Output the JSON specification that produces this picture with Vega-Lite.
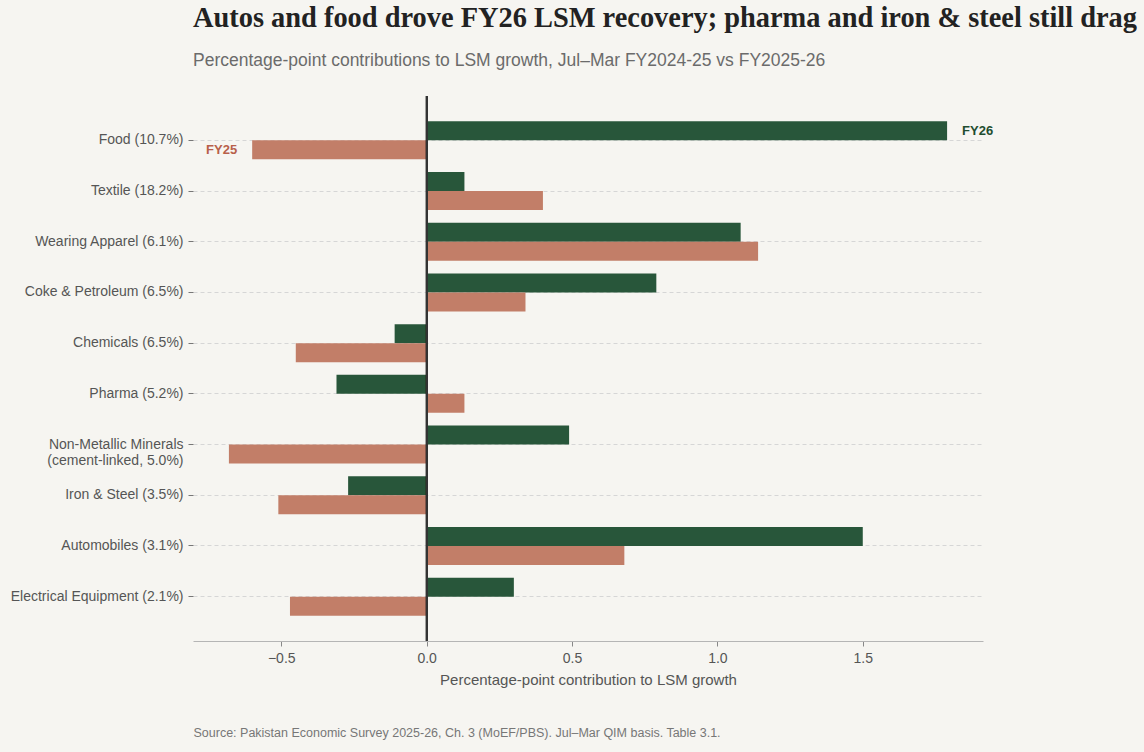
{
  "$schema": "https://vega.github.io/schema/vega-lite/v6.json",
  "width": 790,
  "height": 545,
  "autosize": {"type": "none"},
  "padding": {"left": 193, "top": 96, "right": 161, "bottom": 111},
  "background": "#f6f5f1",
  "title": {
    "text": "Autos and food drove FY26 LSM recovery; pharma and iron & steel still drag",
    "subtitle": "Percentage-point contributions to LSM growth, Jul–Mar FY2024-25 vs FY2025-26",
    "anchor": "start",
    "frame": "group",
    "font": "Liberation Serif",
    "fontSize": 28.4,
    "fontWeight": "bold",
    "color": "#222222",
    "subtitleFont": "Liberation Sans",
    "subtitleFontSize": 17.5,
    "subtitleColor": "#6b6b6b",
    "subtitlePadding": 18,
    "offset": 25
  },
  "config": {
    "view": {"stroke": null},
    "font": "Liberation Sans",
    "axis": {
      "labelFont": "Liberation Sans",
      "titleFont": "Liberation Sans",
      "labelColor": "#555555",
      "titleColor": "#555555",
      "labelFontSize": 14,
      "titleFontWeight": "normal"
    }
  },
  "datasets": {
    "contrib": [
      {"sector": "Food (10.7%)", "period": "FY26", "value": 1.79},
      {"sector": "Food (10.7%)", "period": "FY25", "value": -0.60},
      {"sector": "Textile (18.2%)", "period": "FY26", "value": 0.13},
      {"sector": "Textile (18.2%)", "period": "FY25", "value": 0.40},
      {"sector": "Wearing Apparel (6.1%)", "period": "FY26", "value": 1.08},
      {"sector": "Wearing Apparel (6.1%)", "period": "FY25", "value": 1.14},
      {"sector": "Coke & Petroleum (6.5%)", "period": "FY26", "value": 0.79},
      {"sector": "Coke & Petroleum (6.5%)", "period": "FY25", "value": 0.34},
      {"sector": "Chemicals (6.5%)", "period": "FY26", "value": -0.11},
      {"sector": "Chemicals (6.5%)", "period": "FY25", "value": -0.45},
      {"sector": "Pharma (5.2%)", "period": "FY26", "value": -0.31},
      {"sector": "Pharma (5.2%)", "period": "FY25", "value": 0.13},
      {"sector": "Non-Metallic Minerals|(cement-linked, 5.0%)", "period": "FY26", "value": 0.49},
      {"sector": "Non-Metallic Minerals|(cement-linked, 5.0%)", "period": "FY25", "value": -0.68},
      {"sector": "Iron & Steel (3.5%)", "period": "FY26", "value": -0.27},
      {"sector": "Iron & Steel (3.5%)", "period": "FY25", "value": -0.51},
      {"sector": "Automobiles (3.1%)", "period": "FY26", "value": 1.50},
      {"sector": "Automobiles (3.1%)", "period": "FY25", "value": 0.68},
      {"sector": "Electrical Equipment (2.1%)", "period": "FY26", "value": 0.30},
      {"sector": "Electrical Equipment (2.1%)", "period": "FY25", "value": -0.47}
    ]
  },
  "data": {"name": "contrib"},
  "resolve": {"axis": {"x": "independent"}},
  "layer": [
    {
      "layer": [
        {
          "mark": {"type": "bar"},
          "encoding": {
            "y": {
              "field": "sector",
              "type": "nominal",
              "sort": null,
              "scale": {"paddingInner": 0.25, "paddingOuter": 0.5},
              "axis": {
                "title": null,
                "domain": false,
                "ticks": true,
                "tickSize": 5,
                "tickColor": "#777777",
                "labelPadding": 5,
                "labelLineHeight": 16,
                "labelExpr": "split(datum.label, '|')",
                "grid": true,
                "gridColor": "#d6d6d6",
                "gridDash": [4, 3],
                "gridWidth": 1
              }
            },
            "yOffset": {
              "field": "period",
              "type": "nominal",
              "sort": ["FY26", "FY25"],
              "scale": {"paddingInner": 0, "paddingOuter": 0}
            },
            "x": {
              "field": "value",
              "type": "quantitative",
              "scale": {"domain": [-0.8035, 1.9135], "nice": false, "zero": false},
              "axis": {
                "orient": "bottom",
                "title": "Percentage-point contribution to LSM growth",
                "titleFontSize": 15,
                "titlePadding": 7,
                "values": [-0.5, 0, 0.5, 1, 1.5],
                "format": ".1f",
                "grid": false,
                "domainColor": "#b5b5b5",
                "domainWidth": 1.2,
                "tickColor": "#888888",
                "tickSize": 5,
                "labelPadding": 5
              }
            },
            "color": {
              "field": "period",
              "type": "nominal",
              "scale": {"domain": ["FY26", "FY25"], "range": ["#28563a", "#c27e68"]},
              "legend": null
            }
          }
        },
        {
          "transform": [{"filter": "datum.sector === 'Food (10.7%)' && datum.period === 'FY26'"}],
          "mark": {"type": "text", "align": "left", "baseline": "middle", "dx": 15, "fontSize": 13, "fontWeight": "bold", "color": "#1f4d30"},
          "encoding": {
            "y": {"field": "sector", "type": "nominal", "sort": null},
            "yOffset": {"field": "period", "type": "nominal", "sort": ["FY26", "FY25"]},
            "x": {"field": "value", "type": "quantitative"},
            "text": {"field": "period"}
          }
        },
        {
          "transform": [{"filter": "datum.sector === 'Food (10.7%)' && datum.period === 'FY25'"}],
          "mark": {"type": "text", "align": "right", "baseline": "middle", "dx": -15, "fontSize": 13, "fontWeight": "bold", "color": "#b8604a"},
          "encoding": {
            "y": {"field": "sector", "type": "nominal", "sort": null},
            "yOffset": {"field": "period", "type": "nominal", "sort": ["FY26", "FY25"]},
            "x": {"field": "value", "type": "quantitative"},
            "text": {"field": "period"}
          }
        },
        {
          "mark": {"type": "rule", "color": "#333333", "strokeWidth": 1.3},
          "encoding": {"x": {"datum": 0, "type": "quantitative"}}
        }
      ]
    },
    {
      "mark": {"type": "point", "opacity": 0},
      "encoding": {
        "x": {
          "field": "value",
          "type": "quantitative",
          "axis": {
            "orient": "bottom",
            "title": "Source: Pakistan Economic Survey 2025-26, Ch. 3 (MoEF/PBS). Jul–Mar QIM basis. Table 3.1.",
            "titleFontSize": 12.5,
            "titleColor": "#777777",
            "titleAnchor": "start",
            "titleAlign": "left",
            "titlePadding": 85,
            "labels": false,
            "ticks": false,
            "domain": false,
            "grid": false
          }
        }
      }
    }
  ]
}
